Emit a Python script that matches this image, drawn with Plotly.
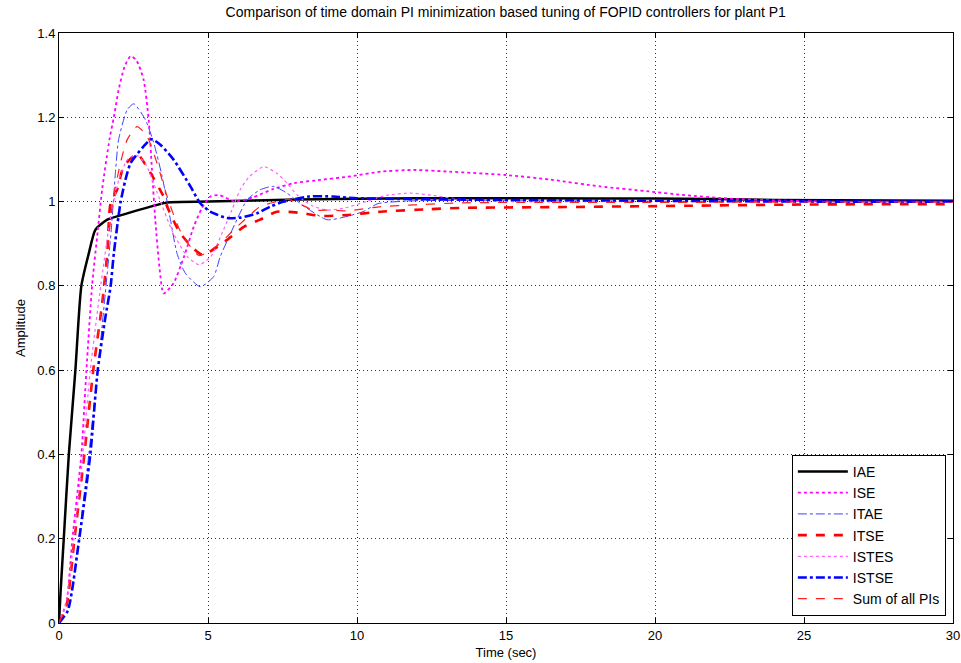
import plotly.graph_objects as go

# ---------------- data ----------------
iae_t = [0, 0.05, 0.16, 0.33, 0.55, 0.75, 1.0, 1.22, 1.62, 2.29, 3.07, 3.63, 5, 8, 12, 16, 20, 22, 24, 30]
iae_y = [0, 0.07, 0.2, 0.4, 0.6, 0.8, 0.877, 0.933, 0.957, 0.972, 0.988, 0.998, 1.0, 1.005, 1.008, 1.008, 1.007, 1.006, 1.004, 1.002]

ise_t = [0, 0.25, 0.45, 0.75, 0.92, 1.11, 1.3, 1.45, 1.7, 1.84, 2.0, 2.2, 2.4, 2.6, 2.84, 3.01, 3.12, 3.23, 3.38, 3.51,
         3.84, 4.2, 4.52, 4.8, 5.08, 5.4, 5.9, 6.5, 7.2, 7.9, 8.6, 9.8, 10.8, 11.9, 13.1, 15.0, 16.5, 18.15, 19.8, 20.9,
         22.5, 24, 26, 30]
ise_y = [0, 0.05, 0.2, 0.4, 0.6, 0.8, 0.93, 1.03, 1.15, 1.2, 1.265, 1.32, 1.345, 1.335, 1.289, 1.194, 1.075, 0.957, 0.838, 0.782,
         0.806, 0.87, 0.94, 0.985, 1.012, 1.015, 1.0, 1.01, 1.03, 1.044, 1.05, 1.06, 1.071, 1.075, 1.071, 1.063, 1.052, 1.036, 1.024, 1.016,
         1.007, 1.003, 1.0, 1.0]

itae_t = [0, 0.3, 0.66, 1.0, 1.3, 1.55, 1.75, 1.9, 2.0, 2.29, 2.51, 2.9, 3.18, 3.46, 3.74, 3.96, 4.24, 4.74, 5.19, 5.41,
          5.97, 6.31, 6.75, 7.2, 7.65, 8.2, 8.99, 9.44, 10.2, 10.7, 12, 15, 20, 25, 30]
itae_y = [0, 0.03, 0.2, 0.4, 0.6, 0.78, 0.93, 1.075, 1.147, 1.218, 1.232, 1.194, 1.139, 1.06, 0.957, 0.877, 0.83, 0.798, 0.822, 0.869,
          0.957, 1.004, 1.028, 1.036, 1.02, 0.99, 0.957, 0.961, 0.976, 0.995, 1.002, 1.002, 1.001, 1.0, 1.0]

itse_t = [0, 0.25, 0.52, 0.85, 1.15, 1.45, 1.62, 1.73, 1.95, 2.17, 2.62, 3.01, 3.51, 3.63, 4.07, 4.8, 5.64, 6.2, 6.75, 7.31,
          8.1, 8.77, 9.66, 10.8, 12.45, 13.5, 17, 21, 25, 30]
itse_y = [0, 0.04, 0.2, 0.4, 0.6, 0.759, 0.877, 0.996, 1.028, 1.083, 1.113, 1.075, 1.012, 0.988, 0.925, 0.874, 0.909, 0.94, 0.957, 0.976,
          0.973, 0.966, 0.968, 0.976, 0.982, 0.985, 0.987, 0.99, 0.993, 0.994]

istes_t = [0, 0.25, 0.5, 0.8, 1.05, 1.4, 1.7, 2.0, 2.3, 2.6, 2.9, 3.3, 3.8, 4.3, 4.7, 5.1, 5.52, 5.8, 6.08, 6.4,
           6.87, 7.31, 7.65, 8.0, 8.5, 9.0, 9.6, 10.3, 11.0, 11.8, 12.5, 13.5, 15, 20, 30]
istes_y = [0, 0.05, 0.2, 0.4, 0.6, 0.8, 0.95, 1.05, 1.1, 1.11, 1.09, 1.02, 0.93, 0.87, 0.85, 0.87, 0.933, 0.98, 1.028, 1.06,
           1.083, 1.067, 1.044, 1.015, 0.99, 0.98, 0.985, 1.0, 1.015, 1.02, 1.015, 1.005, 1.0, 1.0, 1.0]

istse_t = [0, 0.3, 0.68, 1.05, 1.3, 1.56, 1.73, 1.84, 2.06, 2.23, 2.4, 2.84, 3.1, 3.4, 3.85, 4.41, 4.74, 5.08, 5.64, 6.1,
           6.64, 7.09, 7.54, 8.4, 9.2, 10, 13, 17, 20, 22, 25, 30]
istse_y = [0, 0.03, 0.2, 0.4, 0.6, 0.727, 0.798, 0.877, 0.996, 1.052, 1.091, 1.131, 1.148, 1.135, 1.099, 1.036, 0.996, 0.976, 0.961, 0.962,
           0.972, 0.988, 1.0, 1.012, 1.012, 1.008, 1.005, 1.003, 1.002, 1.001, 1.0, 1.0]

sum_t = [0, 0.25, 0.52, 0.85, 1.15, 1.45, 1.65, 1.8, 2.06, 2.29, 2.62, 2.96, 3.29, 3.63, 4.07, 4.7, 5.3, 5.97, 6.75, 7.31,
         7.7, 8.54, 9.1, 9.66, 10.8, 11.9, 13.5, 16, 20, 25, 30]
sum_y = [0, 0.04, 0.2, 0.4, 0.6, 0.76, 0.9, 1.0, 1.091, 1.147, 1.178, 1.154, 1.091, 1.012, 0.93, 0.872, 0.895, 0.94, 0.988, 1.0,
         1.005, 0.98, 0.98, 0.978, 0.988, 0.992, 0.997, 0.998, 0.998, 0.999, 0.999]

names = ["IAE", "ISE", "ITAE", "ITSE", "ISTES", "ISTSE", "Sum of all PIs"]

x_ticks = [0, 5, 10, 15, 20, 25, 30]
y_ticks = [0, 0.2, 0.4, 0.6, 0.8, 1, 1.2, 1.4]
y_tick_text = ["0", "0.2", "0.4", "0.6", "0.8", "1", "1.2", "1.4"]

# ---------------- figure ----------------
series = [
    (iae_t, iae_y, dict(color="black", width=2.5, dash="solid")),
    (ise_t, ise_y, dict(color="#ff00ff", width=1.8, dash="dot")),
    (itae_t, itae_y, dict(color="#4040ff", width=1.0, dash="dashdot")),
    (itse_t, itse_y, dict(color="#ff0000", width=2.6, dash="dash")),
    (istes_t, istes_y, dict(color="#ff60ff", width=1.2, dash="dot")),
    (istse_t, istse_y, dict(color="#0000ff", width=2.6, dash="dashdot")),
    (sum_t, sum_y, dict(color="#ff2020", width=1.2, dash="dash")),
]

fig = go.Figure()
for name, (t, y, ln) in zip(names, series):
    fig.add_trace(go.Scatter(x=t, y=y, mode="lines", name=name,
                             line=dict(shape="spline", smoothing=0.6, **ln)))

axis_common = dict(
    showline=True, linecolor="black", linewidth=1, mirror="ticks",
    ticks="inside", ticklen=5, tickcolor="black", tickwidth=1,
    showgrid=True, gridcolor="rgba(0,0,0,0.8)", gridwidth=1, griddash="1px,3px",
    zeroline=False, automargin=False,
    tickfont=dict(family="Liberation Sans, Arial", size=13, color="black"),
)

W, H = 961, 663
L, R, T, B = 58.5, 8, 33, 40

fig.update_layout(
    width=W, height=H,
    paper_bgcolor="white", plot_bgcolor="white",
    margin=dict(l=L, r=R, t=T, b=B),
    title=dict(text="Comparison of time domain PI minimization based tuning of FOPID controllers for plant P1",
               x=(L + (W - R)) / 2 / W, xanchor="center", y=1 - 12 / H, yanchor="middle",
               font=dict(family="Liberation Sans, Arial", size=14, color="black")),
    xaxis=dict(range=[0, 30], tickvals=x_ticks, ticktext=[str(v) for v in x_ticks],
               title=dict(text="Time (sec)", standoff=6,
                          font=dict(family="Liberation Sans, Arial", size=13, color="black")),
               **axis_common),
    yaxis=dict(range=[0, 1.4], tickvals=y_ticks, ticktext=y_tick_text,
               title=dict(text="Amplitude", standoff=8,
                          font=dict(family="Liberation Sans, Arial", size=13, color="black")),
               **axis_common),
    legend=dict(x=0.992, y=0.012, xanchor="right", yanchor="bottom",
                bgcolor="white", bordercolor="black", borderwidth=1,
                font=dict(family="Liberation Sans, Arial", size=14, color="black"),
                itemwidth=50, tracegroupgap=0),
    showlegend=True,
)

# remove the default 8px body margin so the figure fills the window exactly
fig.write_html("out.html", config={"displayModeBar": False},
               post_script="document.body.style.margin='0px';")
